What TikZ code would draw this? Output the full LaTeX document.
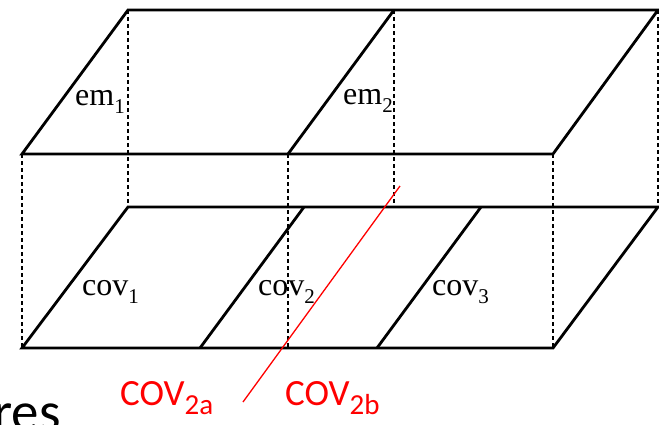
\documentclass[tikz,border=0pt]{standalone}
\usepackage{fontspec}
\setmainfont{Liberation Serif}
\newfontfamily\slidefont{Carlito}
\newcommand{\lowsub}[1]{\raisebox{-0.28em}{\fontsize{21}{24}\selectfont #1}}
\newcommand{\redsub}[1]{\raisebox{-0.27em}{\fontsize{29}{32}\selectfont #1}}
\begin{document}
\begin{tikzpicture}[x=1pt,y=-1pt,
    plane/.style={line width=2.8pt, line join=miter},
    guide/.style={line width=1.8pt, dash pattern=on 4pt off 3pt},
    cutline/.style={red, line width=1.3pt},
    lbl/.style={font=\fontsize{32}{36}\selectfont, anchor=base west, inner sep=0pt},
    redlbl/.style={red, font=\slidefont\fontsize{37}{40}\selectfont, anchor=base west, inner sep=0pt}]
        \useasboundingbox (0,0) rectangle (659,424);

        % Corners of the upper plane
        \coordinate (ua) at (128,10);
        \coordinate (ub) at (394,10);
        \coordinate (uc) at (658,10);
        \coordinate (ud) at (22,154);
        \coordinate (ue) at (288,154);
        \coordinate (uf) at (553,154);

        % Corners of the lower plane
        \coordinate (la) at (128,207);
        \coordinate (lb) at (304,207);
        \coordinate (lc) at (481,207);
        \coordinate (ld) at (658,207);
        \coordinate (le) at (22,348);
        \coordinate (lf) at (200,348);
        \coordinate (lg) at (377,348);
        \coordinate (lh) at (553,348);
        \coordinate (lx) at (394,207);
        \coordinate (ly) at (288,348);

        % Dashed projections
        \draw[guide] (ua) -- (la);
        \draw[guide] (ub) -- (lx);
        \draw[guide] (uc) -- (ld);
        \draw[guide] (ud) -- (le);
        \draw[guide] (ue) -- (ly);
        \draw[guide] (uf) -- (lh);

        % Upper plane
        \draw[plane] (ud) -- (ua) -- (uc) -- (uf) -- cycle;
        \draw[plane] (ue) -- (ub);

        % Lower plane
        \draw[plane] (le) -- (la) -- (ld) -- (lh) -- cycle;
        \draw[plane] (lf) -- (lb);
        \draw[plane] (lg) -- (lc);

        % Red cut
        \coordinate (ra) at (400,186);
        \coordinate (rb) at (243,402);
        \draw[cutline] (ra) -- (rb);

        % Labels
        \node[lbl] (em1) at (75,105) {em\lowsub{1}};
        \node[lbl] (em2) at (343,104) {em\lowsub{2}};
        \node[lbl] (cov1) at (82,295) {cov\lowsub{1}};
        \node[lbl] (cov2) at (258,295) {cov\lowsub{2}};
        \node[lbl] (cov3) at (432,295) {cov\lowsub{3}};
        \node[redlbl] (cova) at (120,405) {COV\redsub{2a}};
        \node[redlbl] (covb) at (285,405) {COV\redsub{2b}};
        \node[font=\slidefont\fontsize{55}{58}\selectfont, anchor=base east, inner sep=0pt] (res) at (61,430) {res};
    \end{tikzpicture}
\end{document}
